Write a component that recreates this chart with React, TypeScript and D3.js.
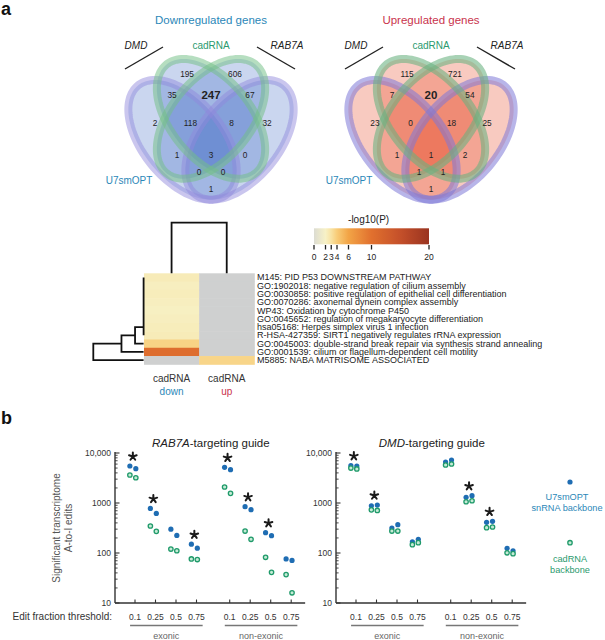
import React from 'react';
import * as d3 from 'd3';

const FONT = '"Liberation Sans", Arial, Helvetica, sans-serif';
const BLUE_TXT = '#2b87b8';
const GREEN_TXT = '#2a9a6e';
const RED_TXT = '#c9334c';

// ---- a: Venn counts, read row by row (top to bottom, left to right) ----
const DOWN_COUNTS = [195, 606, 35, 247, 67, 2, 118, 8, 32, 1, 3, 0, 0, 0, 1];
const UP_COUNTS = [115, 721, 7, 20, 54, 23, 0, 18, 25, 1, 1, 2, 1, 1, 1];
const BOLD_REGION = 3;
// label anchor of each region in the unit venn space (u offset from middle, v)
const REGION_ANCHORS: [number, number][] = [
  [-0.126, 0.784], [0.126, 0.784],
  [-0.205, 0.684], [0, 0.684], [0.205, 0.684],
  [-0.295, 0.55], [-0.108, 0.55], [0.108, 0.55], [0.295, 0.55],
  [-0.179, 0.398], [0, 0.398], [0.179, 0.398],
  [-0.063, 0.317], [0.063, 0.317],
  [0, 0.236],
];
// four-set ellipse layout: outer = U7smOPT, inner = cadRNA
const ELLIPSES = [
  { x: 0.35, y: 0.47, rot: -45, set: 'u7' },
  { x: 0.65, y: 0.47, rot: 45, set: 'u7' },
  { x: 0.5, y: 0.57, rot: -45, set: 'cad' },
  { x: 0.5, y: 0.57, rot: 45, set: 'cad' },
];

// ---- a: enrichment heatmap ----
const TERMS = [
  'M145: PID P53 DOWNSTREAM PATHWAY',
  'GO:1902018: negative regulation of cilium assembly',
  'GO:0030858: positive regulation of epithelial cell differentiation',
  'GO:0070286: axonemal dynein complex assembly',
  'WP43: Oxidation by cytochrome P450',
  'GO:0045652: regulation of megakaryocyte differentiation',
  'hsa05168: Herpes simplex virus 1 infection',
  'R-HSA-427359: SIRT1 negatively regulates rRNA expression',
  'GO:0045003: double-strand break repair via synthesis strand annealing',
  'GO:0001539: cilium or flagellum-dependent cell motility',
  'M5885: NABA MATRISOME ASSOCIATED',
];
const HEAT_COLUMNS = ['down', 'up'];
const DOWN_LOGP = [2.4, 2.2, 2.3, 2.2, 2.1, 2.2, 2.3, 2.4, 3.7, 10.5, NaN];
const UP_LOGP = [NaN, NaN, NaN, NaN, NaN, NaN, NaN, NaN, NaN, NaN, 3.6];
// row dendrogram merges [a, b, height]; leaves 0..10, new nodes numbered from 11
const ROW_MERGES: [number, number, number][] = [
  [0, 1, 0], [11, 2, 0], [12, 3, 0], [13, 4, 0], [14, 5, 0], [15, 6, 0],
  [16, 7, 0], [17, 8, 0.17], [18, 9, 0.44], [19, 10, 1],
];
const CB_TICKS = [0, 2, 3, 4, 6, 10, 20];
const CB_STOPS = [0, 2, 3, 4, 6, 10, 15, 20];
const CB_COLORS = ['#dcdcd2', '#f7f1c6', '#f8e2a2', '#f8cc78', '#f2a446', '#e1702e', '#c4502a', '#9a3320'];

// ---- b: significant A-to-I edits (two replicates per threshold) ----
const THRESHOLDS = ['0.1', '0.25', '0.5', '0.75'];
const LOCI = ['exonic', 'non-exonic'];
const RAB7A_U7 = [[5500, 4850], [780, 620], [300, 225], [150, 125], [5170, 4640], [845, 735], [255, 222], [76, 71]];
const RAB7A_CAD = [[3630, 3200], [347, 271], [120, 111], [76, 74], [2090, 1560], [275, 188], [82, 41], [37, 16]];
const RAB7A_STARS = [true, true, false, true, true, true, true, false];
const DMD_U7 = [[5600, 5500], [880, 910], [316, 369], [168, 188], [6600, 7240], [1300, 1400], [411, 430], [124, 111]];
const DMD_CAD = [[5000, 4800], [730, 710], [275, 275], [147, 161], [5750, 6030], [1060, 1110], [321, 331], [101, 97]];
const DMD_STARS = [true, true, false, false, false, true, true, false];
const GROUP_POS = [0, 1, 2, 3, 4.62, 5.62, 6.62, 7.62];
const REP_OFFSET = [-0.25, 0.04];

function Venn({ cx, title, titleColor, fill, counts, u7Stroke, cadStroke }: any) {
  const xV = d3.scaleLinear().domain([0, 1]).range([cx - 95, cx + 95]);
  const yV = d3.scaleLinear().domain([0.855, 0]).range([59, 59 + 0.855 * 210]);
  const a = 0.35, b = 0.2;
  const line = d3.line().curve(d3.curveLinearClosed);
  const path = (e: any) => {
    const th = (e.rot * Math.PI) / 180;
    const pts = d3.range(120).map((i) => {
      const t = (i / 120) * 2 * Math.PI;
      const u = e.x + a * Math.cos(t) * Math.cos(th) - b * Math.sin(t) * Math.sin(th);
      const v = e.y + a * Math.cos(t) * Math.sin(th) + b * Math.sin(t) * Math.cos(th);
      return [xV(u), yV(v)] as [number, number];
    });
    return line(pts) as string;
  };
  return (
    <g fontFamily={FONT}>
      <text x={cx} y={24} textAnchor="middle" fontSize={11.5} fill={titleColor}>{title}</text>
      <text x={cx} y={49} textAnchor="middle" fontSize={10} fill={GREEN_TXT}>cadRNA</text>
      <text x={cx - 75} y={49} textAnchor="middle" fontSize={10} fontStyle="italic" fill="#222">DMD</text>
      <text x={cx + 76} y={49} textAnchor="middle" fontSize={10} fontStyle="italic" fill="#222">RAB7A</text>
      <line x1={cx - 86} y1={69} x2={cx - 48} y2={47} stroke="#222" strokeWidth={1.4} />
      <line x1={cx + 46} y1={47} x2={cx + 84} y2={69} stroke="#222" strokeWidth={1.4} />
      {ELLIPSES.map((e, i) => (
        <path key={'f' + i} d={path(e)} fill={fill} stroke="none" />
      ))}
      {ELLIPSES.map((e, i) => (
        <path key={'s' + i} d={path(e)} fill="none" stroke={e.set === 'u7' ? u7Stroke : cadStroke} strokeWidth={8} />
      ))}
      {counts.map((c: number, i: number) => (
        <text
          key={'c' + i}
          x={xV(0.5 + REGION_ANCHORS[i][0])}
          y={yV(REGION_ANCHORS[i][1])}
          dy="0.35em"
          textAnchor="middle"
          fontSize={i === BOLD_REGION ? 11.5 : 8.3}
          fontWeight={i === BOLD_REGION ? 'bold' : 'normal'}
          fill="#222"
        >
          {c}
        </text>
      ))}
      <text x={cx - 82} y={184} textAnchor="middle" fontSize={10} fill={BLUE_TXT}>U7smOPT</text>
    </g>
  );
}

function Heatmap() {
  const yH = d3.scaleBand<number>().domain(d3.range(TERMS.length)).range([273.3, 364.3]);
  const xH = d3.scaleBand<string>().domain(HEAT_COLUMNS).range([144, 254.3]);
  const color = d3.scaleLinear<string>().domain(CB_STOPS).range(CB_COLORS).clamp(true);
  const cb = d3.scaleLinear().domain([0, 20]).range([314, 429]);
  const hx = d3.scaleLinear().domain([0, 1]).range([143.6, 93.3]);
  const cy = d3.scaleLinear().domain([0, 1]).range([273.3, 222.7]);
  const cols = [DOWN_LOGP, UP_LOGP];

  // row dendrogram segments
  const nodeY: number[] = TERMS.map((_, i) => (yH(i) as number) + yH.bandwidth() / 2);
  const nodeH: number[] = TERMS.map(() => -0.01);
  const segs: string[] = [];
  ROW_MERGES.forEach(([p, q, h]) => {
    const xh = hx(h);
    segs.push(`M${hx(Math.max(nodeH[p], 0))},${nodeY[p]}H${xh}V${nodeY[q]}H${hx(Math.max(nodeH[q], 0))}`);
    nodeY.push((nodeY[p] + nodeY[q]) / 2);
    nodeH.push(h);
  });
  const leafX = (i: number) => (xH(HEAT_COLUMNS[i]) as number) + xH.bandwidth() / 2;

  return (
    <g fontFamily={FONT}>
      <defs>
        <linearGradient id="cbg" x1="0" x2="1" y1="0" y2="0">
          {d3.range(0, 21).map((v) => (
            <stop key={v} offset={`${(v / 20) * 100}%`} stopColor={color(v)} />
          ))}
        </linearGradient>
      </defs>
      {cols.map((vals, c) =>
        vals.map((v, r) => (
          <rect
            key={c + '-' + r}
            x={xH(HEAT_COLUMNS[c])}
            y={yH(r)}
            width={xH.bandwidth() + 0.5}
            height={yH.bandwidth() + 0.5}
            fill={Number.isNaN(v) ? '#cfd0d0' : color(v)}
          />
        ))
      )}
      <g transform="translate(257,0) scale(1.06,1)">
        {TERMS.map((t, i) => (
          <text key={t} x={0} y={nodeY[i]} dy="0.36em" fontSize={8.5} fill="#222">{t}</text>
        ))}
      </g>
      <path d={segs.join('')} fill="none" stroke="#111" strokeWidth={1.8} />
      <path
        d={`M${leafX(0)},${cy(0)}V${cy(1)}H${leafX(1)}V${cy(0)}`}
        fill="none"
        stroke="#111"
        strokeWidth={1.8}
      />
      {HEAT_COLUMNS.map((c, i) => (
        <g key={c}>
          <text x={leafX(i)} y={382} textAnchor="middle" fontSize={10} fill="#333">cadRNA</text>
          <text x={leafX(i)} y={395} textAnchor="middle" fontSize={10} fill={c === 'down' ? BLUE_TXT : RED_TXT}>{c}</text>
        </g>
      ))}
      <text x={cb(9.5)} y={223} textAnchor="middle" fontSize={10} fill="#222">-log10(P)</text>
      <rect x={cb(0)} y={228.3} width={cb(20) - cb(0)} height={16} fill="url(#cbg)" />
      {CB_TICKS.map((t) => (
        <g key={t}>
          <line x1={cb(t)} x2={cb(t)} y1={245} y2={249.5} stroke="#222" strokeWidth={1.3} />
          <text x={cb(t)} y={260} textAnchor="middle" fontSize={8.5} fill="#222">{t}</text>
        </g>
      ))}
    </g>
  );
}

function Star({ x, y }: { x: number; y: number }) {
  const r = 4;
  const d = d3
    .range(5)
    .map((i) => {
      const ang = -Math.PI / 2 + (i * 2 * Math.PI) / 5;
      return `M${x},${y}L${x + r * Math.cos(ang)},${y + r * Math.sin(ang)}`;
    })
    .join('');
  return <path d={d} stroke="#1a1a1a" strokeWidth={2} strokeLinecap="round" fill="none" />;
}

function EditPanel({ x0, guide, u7, cad, stars, showAxisTitle }: any) {
  const x = d3.scaleLinear().domain([0, 1]).range([x0 + 20, x0 + 40.5]);
  const y = d3.scaleLog().domain([10, 10000]).range([603, 453]);
  const xEnd = x(8.3);
  const majors = [10, 100, 1000, 10000];
  const minors = d3.range(1, 4).flatMap((e) => d3.range(2, 10).map((m) => m * 10 ** e));
  const fmt = (v: number) => (v >= 10000 ? d3.format(',')(v) : String(v));

  return (
    <g fontFamily={FONT}>
      <text x={x(3.7)} y={447} textAnchor="middle" fontSize={11.5} fill="#222">
        <tspan fontStyle="italic">{guide}</tspan>-targeting guide
      </text>
      {/* y axis */}
      <line x1={x0} x2={x0} y1={y(10000) - 1} y2={y(10)} stroke="#333" strokeWidth={1.4} />
      {majors.map((m) => (
        <g key={m}>
          <line x1={x0} x2={x0 + 4.5} y1={y(m)} y2={y(m)} stroke="#333" strokeWidth={1.1} />
          <text x={x0 - 4} y={y(m)} dy="0.35em" textAnchor="end" fontSize={8.5} fill="#333">{fmt(m)}</text>
        </g>
      ))}
      {minors.map((m) => (
        <line key={m} x1={x0} x2={x0 + 2.6} y1={y(m)} y2={y(m)} stroke="#333" strokeWidth={0.9} />
      ))}
      {/* x axis */}
      <line x1={x0} x2={xEnd} y1={y(10)} y2={y(10)} stroke="#333" strokeWidth={1.4} />
      {GROUP_POS.map((p, i) => (
        <g key={i}>
          <line x1={x(p)} x2={x(p)} y1={y(10)} y2={y(10) - 3.5} stroke="#333" strokeWidth={1.1} />
          <text x={x(p)} y={620} textAnchor="middle" fontSize={8.5} fill="#333">{THRESHOLDS[i % 4]}</text>
        </g>
      ))}
      {LOCI.map((l, j) => {
        const a = x(GROUP_POS[4 * j] - 0.24);
        const b = x(GROUP_POS[4 * j + 3] + 0.3);
        return (
          <g key={l}>
            <line x1={a} x2={b} y1={625.5} y2={625.5} stroke="#777" strokeWidth={1.6} />
            <text x={(a + b) / 2} y={639} textAnchor="middle" fontSize={9} fill="#666">{l}</text>
          </g>
        );
      })}
      {/* points */}
      {u7.map((pair: number[], i: number) =>
        pair.map((v, r) => (
          <circle key={'u' + i + r} cx={x(GROUP_POS[i] + REP_OFFSET[r])} cy={y(v)} r={2.6} fill="#1f6db3" />
        ))
      )}
      {cad.map((pair: number[], i: number) =>
        pair.map((v, r) => (
          <circle key={'c' + i + r} cx={x(GROUP_POS[i] + REP_OFFSET[r])} cy={y(v)} r={2.2} fill="#c6ebd6" stroke="#1f9a6a" strokeWidth={1.3} />
        ))
      )}
      {stars.map((s: boolean, i: number) =>
        s ? (
          <Star key={'s' + i} x={x(GROUP_POS[i] + (REP_OFFSET[0] + REP_OFFSET[1]) / 2)} y={y(d3.max(u7[i] as number[]) as number) - 9.5} />
        ) : null
      )}
      {showAxisTitle && (
        <g fontSize={10} fill="#555">
          <text transform={`translate(60,528) rotate(-90)`} textAnchor="middle">Significant transcriptome</text>
          <text transform={`translate(72,528) rotate(-90)`} textAnchor="middle">A-to-I edits</text>
          <text x={112} y={620} textAnchor="end" fill="#333">Edit fraction threshold:</text>
        </g>
      )}
    </g>
  );
}

export default function App() {
  return (
    <svg
      width={605}
      height={640}
      viewBox="0 0 605 640"
      style={{ position: 'fixed', left: 0, top: 0, background: '#fff' }}
    >
      <rect width={605} height={640} fill="#fff" />
      <text x={1} y={15} fontFamily={FONT} fontWeight="bold" fontSize={18} fill="#111">a</text>
      <text x={1} y={424} fontFamily={FONT} fontWeight="bold" fontSize={18} fill="#111">b</text>
      <Venn
        cx={211}
        title="Downregulated genes"
        titleColor={BLUE_TXT}
        fill="rgba(50,95,195,0.26)"
        counts={DOWN_COUNTS}
        u7Stroke="rgba(145,135,220,0.48)"
        cadStroke="rgba(115,192,135,0.52)"
      />
      <Venn
        cx={431}
        title="Upregulated genes"
        titleColor={RED_TXT}
        fill="rgba(232,78,48,0.3)"
        counts={UP_COUNTS}
        u7Stroke="rgba(125,120,215,0.55)"
        cadStroke="rgba(105,178,128,0.58)"
      />
      <Heatmap />
      <EditPanel x0={115} guide="RAB7A" u7={RAB7A_U7} cad={RAB7A_CAD} stars={RAB7A_STARS} showAxisTitle />
      <EditPanel x0={336} guide="DMD" u7={DMD_U7} cad={DMD_CAD} stars={DMD_STARS} />
      <g fontFamily={FONT} fontSize={9.2} textAnchor="middle">
        <circle cx={570} cy={482} r={2.6} fill="#1f6db3" />
        <text x={567} y={500} fill={BLUE_TXT}>U7smOPT</text>
        <text x={567} y={511} fill={BLUE_TXT}>snRNA backbone</text>
        <circle cx={570} cy={542.7} r={2.2} fill="#c6ebd6" stroke="#1f9a6a" strokeWidth={1.3} />
        <text x={570} y={562} fill={GREEN_TXT}>cadRNA</text>
        <text x={570} y={573} fill={GREEN_TXT}>backbone</text>
      </g>
    </svg>
  );
}
